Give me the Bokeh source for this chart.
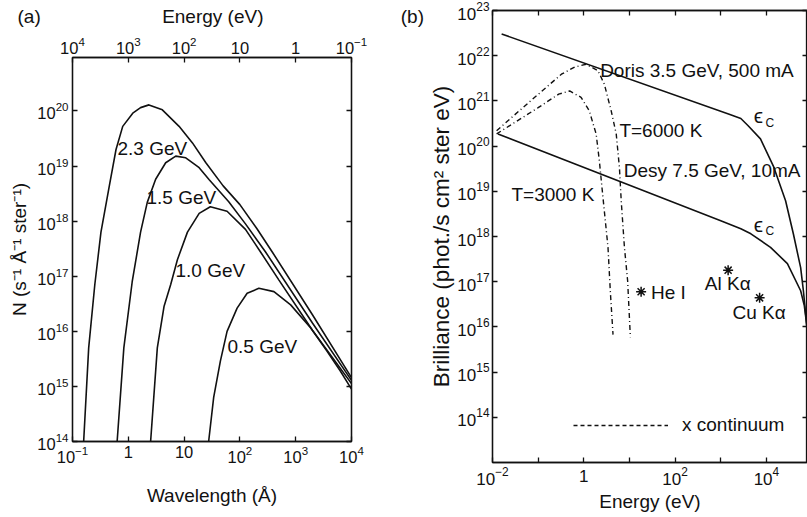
import numpy as np
from bokeh.plotting import figure
from bokeh.models import (Range1d, LogAxis, FixedTicker, LogScale, Legend, LegendItem,
                          CustomJSTickFormatter)
from bokeh.layouts import row
from bokeh.embed import file_html
from bokeh.resources import INLINE
from bokeh.core.properties import value

FONT = "Liberation Sans"
INK = "#111111"
NB = "\u00a0"

# ---------------- panel (a): N vs wavelength (log10 values)
a_labels = ["2.3 GeV", "1.5 GeV", "1.0 GeV", "0.5 GeV"]
a_wl_23 = [-0.80, -0.71, -0.60, -0.49, -0.34, -0.22, -0.10, 0.08, 0.22, 0.37, 0.61, 0.91, 1.15, 1.39, 1.70, 2.00, 2.30, 2.58, 3.30, 4.00]
a_n_23 = [14.00, 15.70, 16.85, 17.80, 18.64, 19.30, 19.72, 19.96, 20.06, 20.11, 20.02, 19.72, 19.42, 19.06, 18.64, 18.30, 17.87, 17.44, 16.30, 15.16]
a_wl_15 = [-0.20, -0.08, 0.07, 0.22, 0.34, 0.49, 0.67, 0.85, 1.03, 1.27, 1.45, 1.80, 2.10, 2.46, 3.30, 4.00]
a_n_15 = [14.00, 15.70, 16.90, 17.80, 18.34, 18.76, 19.06, 19.18, 19.15, 18.97, 18.75, 18.35, 17.95, 17.44, 16.15, 15.11]
a_wl_10 = [0.40, 0.52, 0.64, 0.76, 0.88, 1.06, 1.27, 1.47, 1.77, 2.10, 2.37, 2.70, 3.30, 4.00]
a_n_10 = [14.00, 15.70, 16.45, 16.85, 17.30, 17.80, 18.14, 18.26, 18.18, 17.85, 17.44, 16.93, 16.02, 15.05]
a_wl_05 = [1.44, 1.53, 1.65, 1.77, 1.95, 2.13, 2.34, 2.61, 2.91, 3.27, 3.56, 3.80, 4.00]
a_n_05 = [14.00, 14.80, 15.46, 16.00, 16.42, 16.69, 16.78, 16.72, 16.48, 16.06, 15.64, 15.28, 14.95]

a_x_ticks = [0.1, 1.0, 10.0, 100.0, 1000.0, 10000.0]
a_top_ticks = [10000.0, 1000.0, 100.0, 10.0, 1.0, 0.1]
a_y_ticks = [1e14, 1e15, 1e16, 1e17, 1e18, 1e19, 1e20]
a_plain_labels = {1.0: "1", 10.0: "10"}

# ---------------- panel (b): brilliance vs photon energy (log10 values)
b_doris_e = [-1.80, 3.20, 3.44, 3.60, 3.87, 4.16, 4.42, 4.59, 4.75, 4.81, 4.88, 4.95]
b_doris_b = [22.48, 20.70, 20.61, 20.45, 20.16, 19.54, 18.79, 18.06, 17.31, 16.80, 16.07, 14.50]
b_desy_e = [-1.88, 3.00, 3.44, 3.66, 4.09, 4.46, 4.75, 4.83, 4.90, 4.97]
b_desy_b = [20.27, 18.35, 18.17, 18.06, 17.76, 17.40, 16.80, 16.47, 15.91, 13.90]
b_t6000_e = [-1.91, -1.20, -0.49, -0.20, 0.05, 0.31, 0.45, 0.60, 0.71, 0.78, 0.82, 0.89, 0.96, 1.02]
b_t6000_b = [20.34, 20.97, 21.59, 21.75, 21.81, 21.67, 21.37, 20.78, 20.27, 19.53, 18.78, 17.76, 17.02, 15.77]
b_t3000_e = [-1.91, -1.00, -0.55, -0.31, -0.06, 0.12, 0.27, 0.34, 0.42, 0.53, 0.58, 0.64]
b_t3000_b = [20.27, 20.85, 21.15, 21.22, 21.08, 20.78, 20.27, 19.68, 18.86, 17.76, 16.80, 15.83]

b_src_names = ["He I", "Al K\u03b1", "Cu K\u03b1"]
b_src_e = [18.0, 1450.0, 7100.0]
b_src_b = [6.0e16, 1.8e17, 4.4e16]

b_x_ticks = [1e-2, 1e-1, 1.0, 10.0, 100.0, 1000.0, 10000.0]
b_x_blank = {0.1: " ", 1.0: "1", 10.0: " ", 1000.0: " "}
b_y_ticks = [1e14, 1e15, 1e16, 1e17, 1e18, 1e19, 1e20, 1e21, 1e22, 1e23]


def pw(v):
    return [10.0 ** x for x in v]


def style_axis(ax, ticks, overrides=None, size="16.5px", show=True):
    ax.ticker = FixedTicker(ticks=ticks)
    ax.major_tick_in = 5
    ax.major_tick_out = 0
    ax.minor_tick_in = 0
    ax.minor_tick_out = 0
    ax.axis_line_color = INK
    ax.axis_line_width = 1.3
    ax.major_tick_line_color = INK
    ax.major_tick_line_width = 1.3
    ax.major_label_text_font = FONT
    ax.major_label_text_color = INK
    if show:
        ax.major_label_text_font_size = size
        ax.major_label_standoff = 4
    else:
        ax.formatter = CustomJSTickFormatter(code="return ''")
        ax.major_label_text_font_size = "1px"
        ax.major_label_standoff = 0
    if overrides:
        ax.major_label_overrides = overrides
    ax.axis_label_text_font = FONT
    ax.axis_label_text_font_style = "normal"
    ax.axis_label_text_color = INK
    ax.axis_label_text_font_size = "19px"
    ax.axis_label_standoff = 4


LW = 1.6

# ================= panel (a)   (canvas x 0..426)
pa = figure(width=426, height=516, x_axis_type="log", y_axis_type="log",
            x_range=Range1d(1e-1, 1e4), y_range=Range1d(1e14, 10 ** 20.97),
            output_backend="svg", toolbar_location=None, frame_align=False,
            min_border_left=72, min_border_right=75, min_border_top=55, min_border_bottom=75)
pa.xgrid.grid_line_color = None
pa.ygrid.grid_line_color = None
pa.outline_line_color = INK
pa.outline_line_width = 1.3

# one header row: panel tag (a), top-axis title, and panel tag (b)
pa.title.text = "(a)" + NB * 23 + "Energy (eV)" + NB * 26 + "(b)"
pa.title.align = "left"
pa.title.offset = -55
pa.title.vertical_align = "top"
pa.title.standoff = 10
pa.title.text_font = FONT
pa.title.text_font_size = "19px"
pa.title.text_font_style = "normal"
pa.title.text_color = INK

pa.extra_x_ranges = {"energy": Range1d(1e4, 1e-1)}
pa.extra_x_scales = {"energy": LogScale()}
top_a = LogAxis(x_range_name="energy")
pa.add_layout(top_a, "above")
right_a = LogAxis()
pa.add_layout(right_a, "right")

style_axis(pa.below[0], a_x_ticks, a_plain_labels)
pa.below[0].axis_label = "Wavelength (\u00c5)"
pa.below[0].axis_label_standoff = 19
style_axis(top_a, a_top_ticks, a_plain_labels)
style_axis(pa.left[0], a_y_ticks)
pa.left[0].axis_label = "N (s\u207b\u00b9 \u00c5\u207b\u00b9 ster\u207b\u00b9)"
pa.left[0].axis_label_standoff = 4
style_axis(right_a, a_y_ticks, show=False)

for wl, n in [(a_wl_23, a_n_23), (a_wl_15, a_n_15), (a_wl_10, a_n_10), (a_wl_05, a_n_05)]:
    pa.line(pw(wl), pw(n), line_color=INK, line_width=LW)

pa.text(x=pw([-0.194, 0.326, 0.846, 1.778]), y=pw([19.32, 18.43, 17.10, 15.73]), text=a_labels,
        text_font=value(FONT), text_font_size="19px", text_color=INK,
        text_baseline="middle", text_align="left")

# ================= panel (b)   (canvas x 426..807)
pb = figure(width=381, height=516, x_axis_type="log", y_axis_type="log", title=None,
            x_range=Range1d(1e-2, 10 ** 4.9), y_range=Range1d(1e13, 1e23),
            output_backend="svg", toolbar_location=None, frame_align=False,
            min_border_left=65, min_border_right=0, min_border_top=10, min_border_bottom=54)
pb.xgrid.grid_line_color = None
pb.ygrid.grid_line_color = None
pb.outline_line_color = INK
pb.outline_line_width = 1.3

top_b = LogAxis()
pb.add_layout(top_b, "above")
right_b = LogAxis()
pb.add_layout(right_b, "right")
style_axis(pb.below[0], b_x_ticks, b_x_blank, size="17px")
pb.below[0].axis_label = "Energy (eV)"
pb.below[0].axis_label_standoff = 2
style_axis(top_b, b_x_ticks, show=False)
style_axis(pb.left[0], b_y_ticks, size="17px")
pb.left[0].major_label_standoff = 3
pb.left[0].axis_label = "Brilliance (phot./s cm\u00b2 ster eV)"
pb.left[0].axis_label_text_font_size = "22.5px"
pb.left[0].axis_label_standoff = 0
style_axis(right_b, b_y_ticks, show=False)

pb.line(pw(b_doris_e), pw(b_doris_b), line_color=INK, line_width=LW)
pb.line(pw(b_desy_e), pw(b_desy_b), line_color=INK, line_width=LW)
pb.line(pw(b_t6000_e), pw(b_t6000_b), line_color=INK, line_width=1.4, line_dash="5 3 1 3")
pb.line(pw(b_t3000_e), pw(b_t3000_b), line_color=INK, line_width=1.4, line_dash="5 3 1 3")

pb.scatter(b_src_e, b_src_b, marker="asterisk", size=10, line_color=INK, line_width=1.5)

txt = dict(text_font=value(FONT), text_font_size="19px", text_color=INK,
           text_baseline="middle", text_align="left")
pb.text(x=pw([0.358, 0.78, 0.875, -1.585, 1.47, 2.65, 3.256]),
        y=pw([21.67, 20.34, 19.45, 18.94, 16.76, 16.95, 16.32]),
        text=["Doris 3.5 GeV, 500 mA", "T=6000 K", "Desy 7.5 GeV, 10mA", "T=3000 K",
              b_src_names[0], b_src_names[1], b_src_names[2]], **txt)
pb.text(x=pw([3.72, 3.72]), y=pw([20.67, 18.27]), text=["\u03f5", "\u03f5"],
        text_font=value(FONT), text_font_size="21px", text_color=INK,
        text_baseline="middle", text_align="left")
pb.text(x=pw([3.98, 3.98]), y=pw([20.52, 18.13]), text=["C", "C"],
        text_font=value(FONT), text_font_size="12px", text_color=INK,
        text_baseline="middle", text_align="left")

cont_leg = pb.line(x=[1.0], y=[1.0], line_color=INK, line_width=1.4, line_dash="4 3")
leg = Legend(items=[LegendItem(label="x continuum", renderers=[cont_leg])], location=(81, 26),
             glyph_width=95, glyph_height=20, label_standoff=14, padding=0, margin=0,
             border_line_color=None, background_fill_alpha=0,
             label_text_font=FONT, label_text_font_size="19px", label_text_color=INK)
pb.add_layout(leg)

layout = row(pa, pb)
open("out.html", "w").write(file_html(layout, INLINE))
